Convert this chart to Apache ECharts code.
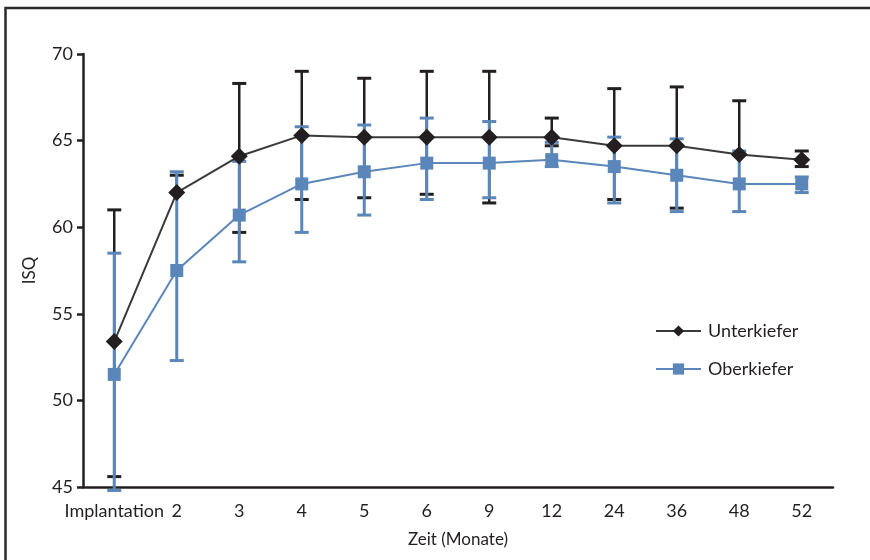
<!DOCTYPE html>
<html>
<head>
<meta charset="utf-8">
<script src="https://cdn.jsdelivr.net/npm/echarts@6/dist/echarts.min.js"></script>
<style>
  html, body { margin: 0; padding: 0; background: #fff; }
  #main { width: 870px; height: 560px; }
</style>
</head>
<body>
<div id="main"></div>
<script>
// Zeitpunkte (Monate)
var categories = ["Implantation", "2", "3", "4", "5", "6", "9", "12", "24", "36", "48", "52"];

// Unterkiefer: Mittelwert, untere / obere Fehlerbalken
var unterMean = [53.4, 62.0, 64.1, 65.3, 65.2, 65.2, 65.2, 65.2, 64.7, 64.7, 64.2, 63.9];
var unterLow  = [45.6, null, 59.7, 61.6, 61.7, 61.9, 61.4, 64.7, 61.6, 61.1, null, 63.5];
var unterHigh = [61.0, 63.0, 68.3, 69.0, 68.6, 69.0, 69.0, 66.3, 68.0, 68.1, 67.3, 64.4];

// Oberkiefer
var oberMean = [51.5, 57.5, 60.7, 62.5, 63.2, 63.7, 63.7, 63.9, 63.5, 63.0, 62.5, 62.5];
var oberLow  = [44.8, 52.3, 58.0, 59.7, 60.7, 61.6, 61.7, 63.5, 61.4, 60.9, 60.9, 62.0];
var oberHigh = [58.5, 63.2, 63.8, 65.8, 65.9, 66.3, 66.1, 64.9, 65.2, 65.1, 64.4, 62.9];

var yTicks = [45, 50, 55, 60, 65, 70];

var textColor = "#231f20";
var black = "#231f20";
var blue = "#5b86b9";

function errData(mean, low, high) {
  return mean.map(function (m, i) {
    return [i, low[i] == null ? m : low[i], high[i], low[i] == null ? 0 : 1];
  });
}

function errRender(color, width) {
  return function (params, api) {
    var i = api.value(0);
    var top = api.coord([i, api.value(2)]);
    var bot = api.coord([i, api.value(1)]);
    var half = 7;
    var style = { stroke: color, lineWidth: width };
    var children = [
      { type: "line", shape: { x1: top[0], y1: top[1], x2: bot[0], y2: bot[1] }, style: style },
      { type: "line", shape: { x1: top[0] - half, y1: top[1], x2: top[0] + half, y2: top[1] },
        style: { stroke: color, lineWidth: 3 } }
    ];
    if (api.value(3)) {
      children.push({ type: "line", shape: { x1: bot[0] - half, y1: bot[1], x2: bot[0] + half, y2: bot[1] },
        style: { stroke: color, lineWidth: 3 } });
    }
    return { type: "group", children: children };
  };
}

var chart = echarts.init(document.getElementById("main"));

var option = {
  backgroundColor: "#fff",
  animation: false,
  textStyle: { fontFamily: "Lato", color: textColor },
  graphic: [
    {
      type: "rect",
      shape: { x: 5.5, y: 8, width: 900, height: 600 },
      style: { fill: "none", stroke: "#2b2b2b", lineWidth: 2.5 },
      silent: true
    }
  ],
  grid: { left: 83, right: 37, top: 54, bottom: 73 },
  legend: {
    orient: "vertical",
    left: 650,
    top: 317,
    itemWidth: 45,
    itemHeight: 14,
    itemGap: 20,
    textStyle: { fontSize: 18, color: textColor, fontFamily: "Lato", padding: [0, 0, 0, 2] },
    data: ["Unterkiefer", "Oberkiefer"]
  },
  xAxis: {
    type: "category",
    data: categories,
    name: "Zeit (Monate)",
    nameLocation: "middle",
    nameGap: 44,
    nameTextStyle: { fontSize: 17, color: textColor, fontFamily: "Lato" },
    axisLine: { lineStyle: { color: black, width: 2.5 } },
    axisTick: { alignWithLabel: true, interval: 0, length: 6, lineStyle: { color: black, width: 2.5 } },
    axisLabel: { interval: 0, hideOverlap: false, fontSize: 18, color: textColor, margin: 15 }
  },
  yAxis: {
    type: "value",
    min: 45,
    max: 70,
    interval: 5,
    name: "ISQ",
    nameLocation: "middle",
    nameGap: 45,
    nameTextStyle: { fontSize: 17, color: textColor, fontFamily: "Lato" },
    splitLine: { show: false },
    axisLine: { show: true, lineStyle: { color: black, width: 2.5 } },
    axisTick: { show: true, length: 6, lineStyle: { color: black, width: 2.5 } },
    axisLabel: {
      fontSize: 18, color: textColor, margin: 10,
      formatter: function (v) { return yTicks.indexOf(v) >= 0 ? String(v) : ""; }
    }
  },
  series: [
    {
      name: "Unterkiefer-err",
      type: "custom",
      z: 1,
      clip: false,
      renderItem: errRender(black, 2.5),
      encode: { x: 0, y: [1, 2] },
      data: errData(unterMean, unterLow, unterHigh)
    },
    {
      name: "Oberkiefer-err",
      type: "custom",
      z: 2,
      clip: false,
      renderItem: errRender(blue, 3),
      encode: { x: 0, y: [1, 2] },
      data: errData(oberMean, oberLow, oberHigh)
    },
    {
      name: "Oberkiefer",
      type: "line",
      z: 3,
      data: oberMean,
      symbol: "rect",
      symbolSize: 13,
      lineStyle: { color: blue, width: 2 },
      itemStyle: { color: blue },
      emphasis: { disabled: true }
    },
    {
      name: "Unterkiefer",
      type: "line",
      z: 4,
      data: unterMean,
      symbol: "diamond",
      symbolSize: 17,
      lineStyle: { color: "#3a3a3a", width: 2 },
      itemStyle: { color: black },
      emphasis: { disabled: true }
    }
  ]
};

chart.setOption(option);
</script>
</body>
</html>
